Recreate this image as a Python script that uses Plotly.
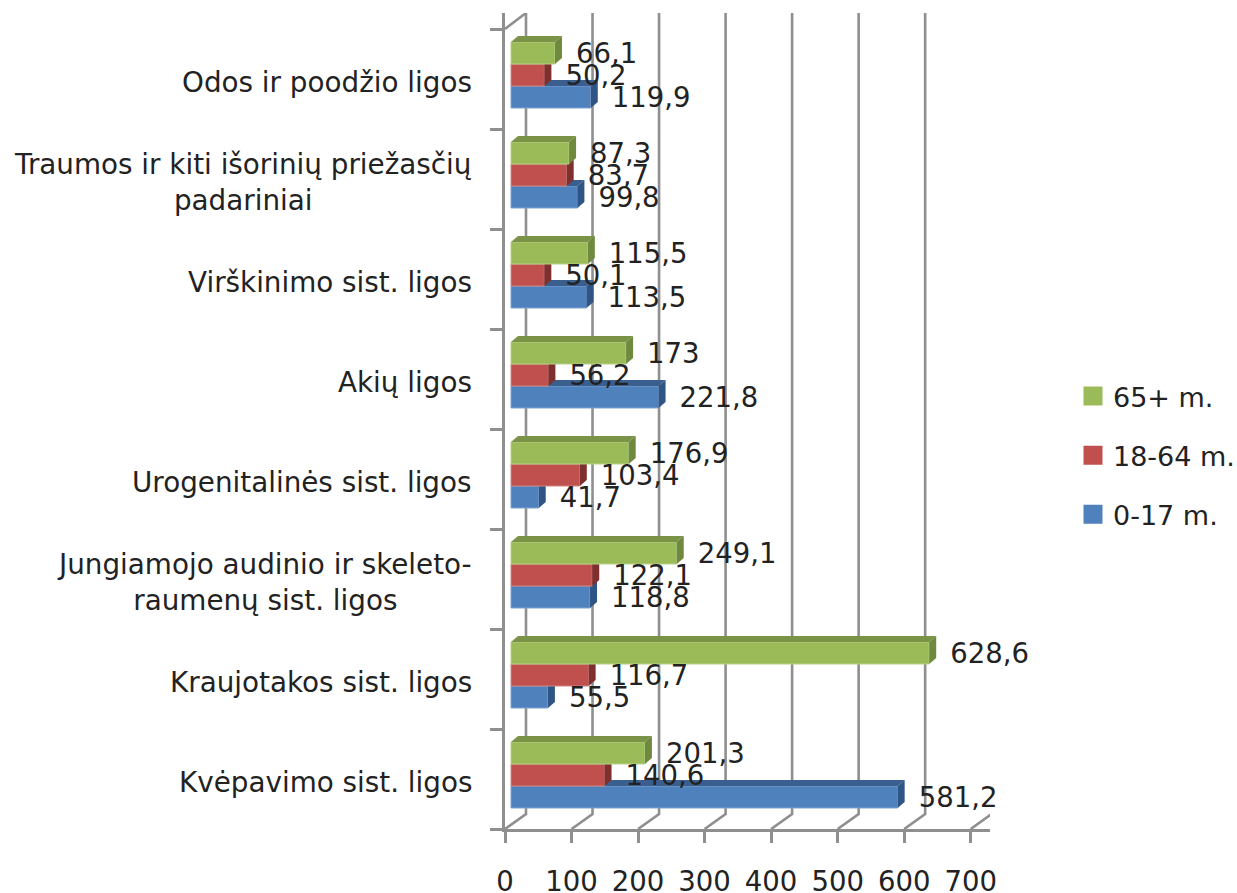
import plotly.graph_objects as go

categories = ["Kvėpavimo sist. ligos", "Kraujotakos sist. ligos",
              "Jungiamojo audinio ir skeleto-<br>raumenų sist. ligos",
              "Urogenitalinės sist. ligos", "Akių ligos", "Virškinimo sist. ligos",
              "Traumos ir kiti išorinių priežasčių<br>padariniai", "Odos ir poodžio ligos"]
val_0_17 = [581.2, 55.5, 118.8, 41.7, 221.8, 113.5, 99.8, 119.9]
val_18_64 = [140.6, 116.7, 122.1, 103.4, 56.2, 50.1, 83.7, 50.2]
val_65 = [201.3, 628.6, 249.1, 176.9, 173, 115.5, 87.3, 66.1]
x_ticks = [0, 100, 200, 300, 400, 500, 600, 700]

# layout in pixels
L, R, T, B = 505, 990, 13, 829
SX = 465.7 / 700          # px per value unit
SY = 100.0                # px per category band
FONT = "DejaVu Sans"
TXT = "#222222"
GRID = "#8f8f8f"
GW = 2.6

dx_wall, dy_wall = 21 / SX, 15 / SY
dx_bar, dy_bar = 7 / SX, 6 / SY
inset = 6 / SX
bar_h = 0.22
xr = [0, (R - L) / SX]
yr = [0, (B - T) / SY]

series = [
    ("0-17 m.", val_0_17, 0.32, "#4F81BD", "#3A5F8E", "#2F5585", "#7FA3D0"),
    ("18-64 m.", val_18_64, 0.54, "#C0504D", "#96403D", "#7F2F2D", "#D08583"),
    ("65+ m.", val_65, 0.76, "#9BBB59", "#7A9347", "#6F8A3F", "#B7CF88"),
]

fig = go.Figure()

# back-wall gridlines and floor diagonals, left-wall top edge
gx, gy = [], []
for t in x_ticks:
    gx += [t + dx_wall, t + dx_wall, t, None]
    gy += [yr[1], dy_wall, 0, None]
gx += [0, dx_wall]
gy += [8, yr[1]]
fig.add_trace(go.Scatter(x=gx, y=gy, mode="lines", showlegend=False, hoverinfo="skip",
                         line=dict(color=GRID, width=GW)))

for n, (name, vals, off, front, top, side, edge) in enumerate(series):
    xa, ya = f"x{n+2}", f"y{n+2}"
    ys = [i + off for i in range(len(vals))]
    fig.add_trace(go.Bar(x=vals, y=ys, base=inset, orientation="h", width=bar_h,
                         marker=dict(color=front, line=dict(color=edge, width=1)),
                         showlegend=False, xaxis=xa, yaxis=ya))
    tx, ty, sx, sy = [], [], [], []
    for v, y in zip(vals, ys):
        e = inset + v
        yt, yb = y + bar_h / 2, y - bar_h / 2
        tx += [inset, inset + dx_bar, e + dx_bar, e, None]
        ty += [yt, yt + dy_bar, yt + dy_bar, yt, None]
        sx += [e, e + dx_bar, e + dx_bar, e, None]
        sy += [yb, yb + dy_bar, yt + dy_bar, yt, None]
    for px, py, col in ((tx, ty, top), (sx, sy, side)):
        fig.add_trace(go.Scatter(x=px, y=py, mode="lines", fill="toself", fillcolor=col,
                                 line=dict(width=0, color=col), showlegend=False,
                                 hoverinfo="skip", xaxis=xa, yaxis=ya))

# data labels
for name, vals, off, *_ in series:
    fig.add_trace(go.Scatter(
        x=[inset + v + 21 / SX for v in vals], y=[i + off - 0.035 for i in range(len(vals))],
        text=[f"{v:g}".replace(".", ",") for v in vals],
        mode="text", textposition="middle right", cliponaxis=False, showlegend=False,
        textfont=dict(family=FONT, size=27.5, color=TXT), hoverinfo="skip",
        xaxis="x4", yaxis="y4"))

# legend entries
for name, vals, off, front, *_ in reversed(series):
    fig.add_trace(go.Scatter(x=[None], y=[None], mode="markers", name=name, legendgroup=name,
                             marker=dict(symbol="square", size=16, color=front,
                                         line=dict(color=front, width=3))))

annotations = [dict(text=c, x=0, y=i + 0.5, xref="x", yref="y", xshift=-31, yshift=-3,
                    xanchor="right", yanchor="middle", align="center", showarrow=False,
                    font=dict(family=FONT, size=27.8, color=TXT))
               for i, c in enumerate(categories)]

layout = dict(
    width=1237, height=893, autosize=False, showlegend=True,
    paper_bgcolor="white", plot_bgcolor="white", barmode="overlay",
    margin=dict(l=L, r=1237 - R, t=T, b=893 - B, pad=0, autoexpand=False),
    xaxis=dict(range=xr, tickvals=x_ticks, ticks="outside", ticklen=11, tickwidth=GW,
               tickcolor=GRID, showline=True, linecolor=GRID, linewidth=GW, showgrid=False,
               zeroline=False, ticklabelstandoff=15,
               tickfont=dict(family=FONT, size=27.5, color=TXT)),
    yaxis=dict(range=yr, tickvals=list(range(9)), ticktext=[""] * 9, ticks="outside",
               ticklen=12, tickwidth=GW, tickcolor=GRID, showline=True, linecolor=GRID,
               linewidth=GW, showgrid=False, zeroline=False),
    legend=dict(x=(1073 - L) / (R - L), y=(B - 372) / (B - T), xanchor="left", yanchor="top",
                font=dict(family=FONT, size=27, color=TXT), tracegroupgap=21,
                traceorder="grouped", bgcolor="rgba(0,0,0,0)", itemwidth=30),
    annotations=annotations,
)
for n in (2, 3, 4):
    layout[f"xaxis{n}"] = dict(range=xr, overlaying="x", visible=False)
    layout[f"yaxis{n}"] = dict(range=yr, overlaying="y", visible=False)
fig.update_layout(**layout)
fig.write_html("out.html", config=dict(displayModeBar=False),
               post_script="document.body.style.margin='0';document.body.style.overflow='hidden';")
